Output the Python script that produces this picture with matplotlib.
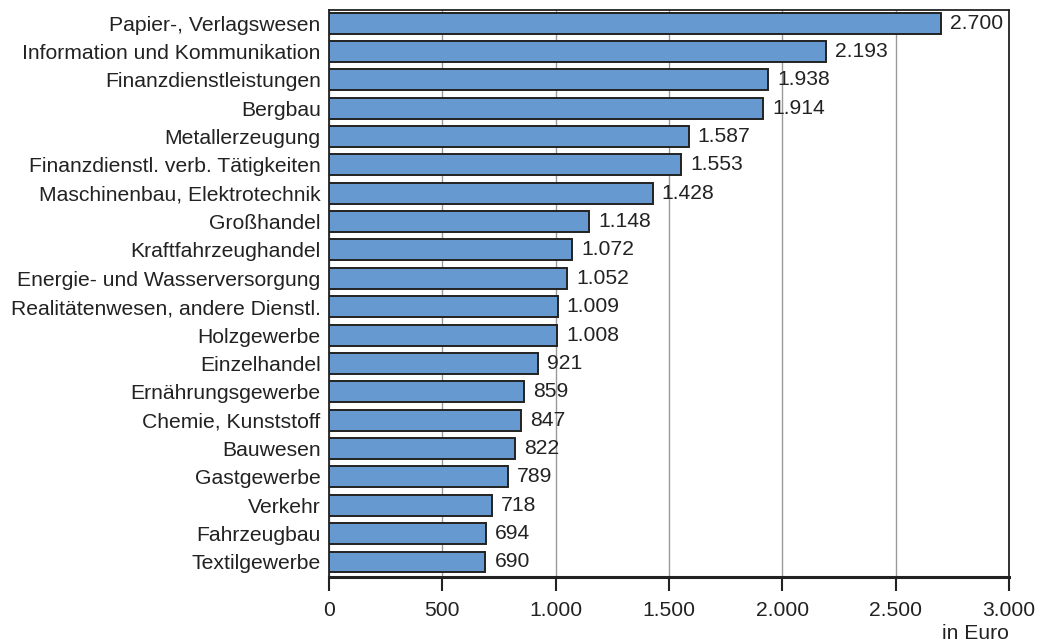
import matplotlib
matplotlib.use("Agg")
import matplotlib.pyplot as plt

categories = [
    "Papier-, Verlagswesen", "Information und Kommunikation", "Finanzdienstleistungen",
    "Bergbau", "Metallerzeugung", "Finanzdienstl. verb. Tätigkeiten",
    "Maschinenbau, Elektrotechnik", "Großhandel", "Kraftfahrzeughandel",
    "Energie- und Wasserversorgung", "Realitätenwesen, andere Dienstl.", "Holzgewerbe",
    "Einzelhandel", "Ernährungsgewerbe", "Chemie, Kunststoff", "Bauwesen",
    "Gastgewerbe", "Verkehr", "Fahrzeugbau", "Textilgewerbe",
]
values = [2700, 2193, 1938, 1914, 1587, 1553, 1428, 1148, 1072, 1052,
          1009, 1008, 921, 859, 847, 822, 789, 718, 694, 690]
xticks = [0, 500, 1000, 1500, 2000, 2500, 3000]
xtick_labels = ["0", "500", "1.000", "1.500", "2.000", "2.500", "3.000"]

def fmt(v):
    return f"{v:,}".replace(",", ".")

FS = 15.2
plt.rcParams['font.family'] = ['Liberation Sans', 'DejaVu Sans']
fig = plt.figure(figsize=(10.43, 6.42), dpi=100)
ax = fig.add_axes([0.3154, 0.1012, 0.6520, 0.8832])

y = list(range(len(categories)))
ax.barh(y, values, height=0.74, color="#6699cf", edgecolor="#222222", linewidth=1.4, zorder=3)
for yi, v in zip(y, values):
    ax.text(v + 40, yi, fmt(v), va="center", ha="left", fontsize=FS, color="#222222", zorder=4)

ax.set_xlim(0, 3000)
ax.set_ylim(len(categories) - 0.47, -0.46)
ax.set_yticks(y)
ax.set_yticklabels(categories, fontsize=FS, color="#222222")
ax.set_xticks(xticks)
ax.set_xticklabels(xtick_labels, fontsize=FS, color="#222222")
ax.tick_params(axis="y", length=0, pad=6)
ax.tick_params(axis="x", direction="out", length=10, width=1.5, color="#222222", pad=7)
ax.grid(axis="x", color="#999999", linewidth=1.0, zorder=0)
for s in ["top", "right", "left"]:
    ax.spines[s].set_linewidth(1.3)
    ax.spines[s].set_color("#222222")
ax.spines["bottom"].set_linewidth(2.2)
ax.spines["bottom"].set_color("#222222")
ax.text(1.0, -0.082, "in Euro", transform=ax.transAxes, ha="right", va="top",
        fontsize=FS, color="#222222")

fig.savefig("out.png", dpi=100)
